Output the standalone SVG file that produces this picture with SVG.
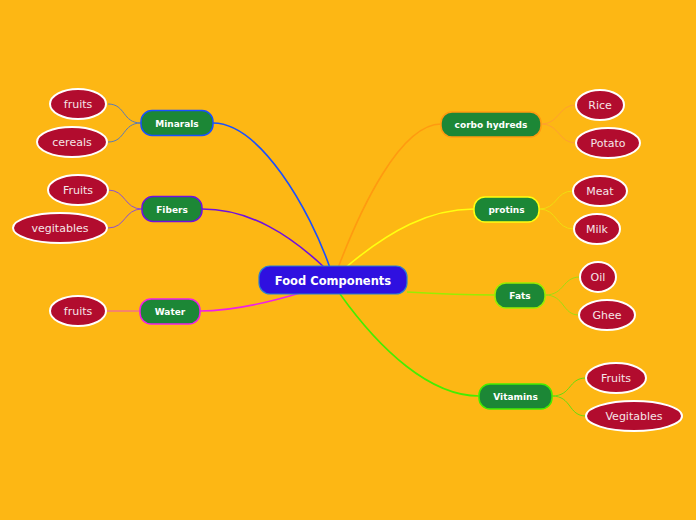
<svg xmlns="http://www.w3.org/2000/svg" width="696" height="520" viewBox="0 0 696 520">
<style>
.bg{fill:#fdb714}
.br{fill:none;stroke-width:1.6}
.lf{fill:none;stroke-width:1}
.sub rect{fill:#1c8736;stroke-width:1.5}
.sub text{font-family:"DejaVu Sans",sans-serif;font-size:9px;font-weight:bold;fill:#ffffff;text-anchor:middle}
.leaf ellipse{fill:#b20c2e;stroke:#ffffff;stroke-width:2}
.leaf text{font-family:"DejaVu Sans",sans-serif;font-size:11px;fill:#f5e6e8;text-anchor:middle}
</style>
<rect class="bg" x="0" y="0" width="696" height="520"/>
<g id="connectors">
<path class="br" stroke="#1a50ff" d="M330,268 C310,210 260,123 213,123"/>
<path class="br" stroke="#7010e0" d="M325,268 C290,235 250,209 202,209"/>
<path class="br" stroke="#f020e8" d="M300,293 C260,305 230,311 200,311"/>
<path class="br" stroke="#ff9a10" d="M338,268 C360,210 400,124 441,124"/>
<path class="br" stroke="#ffff10" d="M345,268 C390,230 430,209 474,209"/>
<path class="br" stroke="#99ee00" d="M407,292 C440,294 470,295 495,295"/>
<path class="br" stroke="#44ee00" d="M340,294 C380,350 430,396 479,396"/>
<path class="lf" stroke="#5a7ab8" d="M141,123 C122,123 126,104 108,104"/>
<path class="lf" stroke="#5a7ab8" d="M141,123 C122,123 126,142 108,142"/>
<path class="lf" stroke="#9050d0" d="M142,209 C124,209 126,190 108,190"/>
<path class="lf" stroke="#9050d0" d="M142,209 C124,209 126,228 108,228"/>
<path class="lf" stroke="#f050c0" d="M140,311 L106,311"/>
<path class="lf" stroke="#ffa030" d="M541,124 C560,124 558,105 576,105"/>
<path class="lf" stroke="#ffa030" d="M541,124 C560,124 558,143 576,143"/>
<path class="lf" stroke="#f0dd10" d="M539,209 C558,209 555,191 573,191"/>
<path class="lf" stroke="#f0dd10" d="M539,209 C558,209 555,229 574,229"/>
<path class="lf" stroke="#a0dd10" d="M545,295 C565,295 562,277 580,277"/>
<path class="lf" stroke="#a0dd10" d="M545,295 C565,295 562,315 579,315"/>
<path class="lf" stroke="#66dd10" d="M552,396 C572,396 568,378 586,378"/>
<path class="lf" stroke="#66dd10" d="M552,396 C572,396 568,416 586,416"/>
</g>
<g id="center">
<rect x="259" y="266" width="148" height="28" rx="11" fill="#2f10e0" stroke="#2a7fd0" stroke-width="1.2"/>
<text x="333" y="284.5" font-family="DejaVu Sans,sans-serif" font-size="11.5" font-weight="bold" fill="#ffffff" text-anchor="middle">Food Components</text>
</g>
<g id="minarals" class="sub"><rect x="141" y="110.5" width="72" height="25" rx="11" stroke="#1a50ff"/><text x="177" y="126.5">Minarals</text></g>
<g id="fibers" class="sub"><rect x="142" y="196.5" width="60" height="25" rx="11" stroke="#7010e0"/><text x="172" y="212.5">Fibers</text></g>
<g id="water" class="sub"><rect x="140" y="299" width="60" height="25" rx="11" stroke="#f020e8"/><text x="170" y="315">Water</text></g>
<g id="corbo" class="sub"><rect x="441" y="112" width="100" height="25" rx="11" stroke="#ff9a10"/><text x="491" y="128">corbo hydreds</text></g>
<g id="protins" class="sub"><rect x="474" y="197" width="65" height="25" rx="11" stroke="#ffff10"/><text x="506.5" y="213">protins</text></g>
<g id="fats" class="sub"><rect x="495" y="283" width="50" height="25" rx="11" stroke="#99ee00"/><text x="520" y="299">Fats</text></g>
<g id="vitamins" class="sub"><rect x="479" y="384" width="73" height="25" rx="11" stroke="#44ee00"/><text x="515.5" y="400">Vitamins</text></g>
<g id="l-fruits1" class="leaf"><ellipse cx="78" cy="104" rx="28" ry="15"/><text x="78" y="108">fruits</text></g>
<g id="l-cereals" class="leaf"><ellipse cx="72" cy="142" rx="35" ry="15"/><text x="72" y="146">cereals</text></g>
<g id="l-fruits2" class="leaf"><ellipse cx="78" cy="190" rx="30" ry="15"/><text x="78" y="194">Fruits</text></g>
<g id="l-vegitables1" class="leaf"><ellipse cx="60" cy="228" rx="47" ry="15"/><text x="60" y="232">vegitables</text></g>
<g id="l-fruits3" class="leaf"><ellipse cx="78" cy="311" rx="28" ry="15"/><text x="78" y="315">fruits</text></g>
<g id="l-rice" class="leaf"><ellipse cx="600" cy="105" rx="24" ry="15"/><text x="600" y="109">Rice</text></g>
<g id="l-potato" class="leaf"><ellipse cx="608" cy="143" rx="32" ry="15"/><text x="608" y="147">Potato</text></g>
<g id="l-meat" class="leaf"><ellipse cx="600" cy="191" rx="27" ry="15"/><text x="600" y="195">Meat</text></g>
<g id="l-milk" class="leaf"><ellipse cx="597" cy="229" rx="23" ry="15"/><text x="597" y="233">Milk</text></g>
<g id="l-oil" class="leaf"><ellipse cx="598" cy="277" rx="18" ry="15"/><text x="598" y="281">Oil</text></g>
<g id="l-ghee" class="leaf"><ellipse cx="607" cy="315" rx="28" ry="15"/><text x="607" y="319">Ghee</text></g>
<g id="l-fruits4" class="leaf"><ellipse cx="616" cy="378" rx="30" ry="15"/><text x="616" y="382">Fruits</text></g>
<g id="l-vegitables2" class="leaf"><ellipse cx="634" cy="416" rx="48" ry="15"/><text x="634" y="420">Vegitables</text></g>
</svg>
